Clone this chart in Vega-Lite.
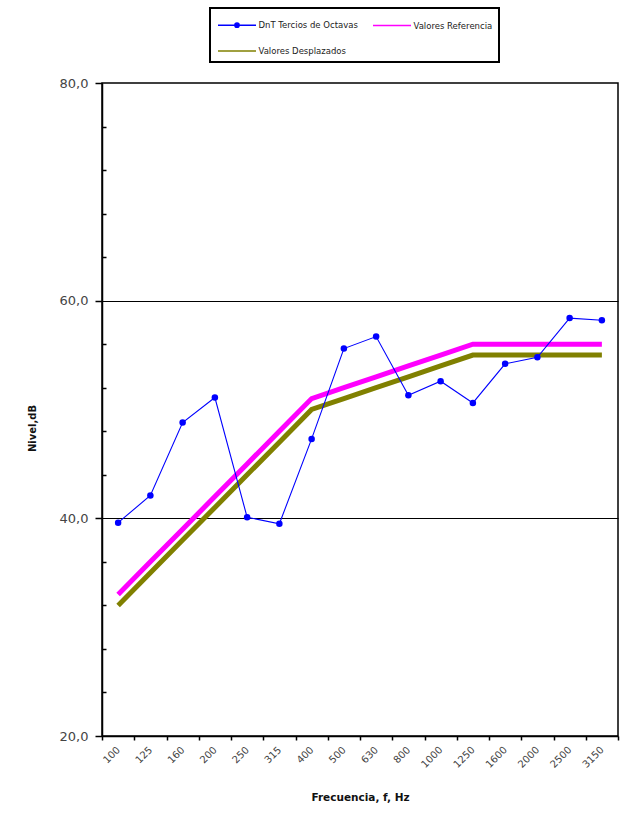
{
  "$schema": "https://vega.github.io/schema/vega-lite/v6.json",
  "width": 516,
  "height": 653,
  "autosize": {"type": "none"},
  "padding": {"left": 102, "top": 83, "right": 22, "bottom": 91},
  "background": "white",
  "config": {
    "font": "DejaVu Sans",
    "view": {"stroke": "black", "strokeWidth": 1.5}
  },
  "data": {
    "values": [
      {"freq": "100", "series": "DnT Tercios de Octavas", "value": 39.6},
      {"freq": "125", "series": "DnT Tercios de Octavas", "value": 42.1},
      {"freq": "160", "series": "DnT Tercios de Octavas", "value": 48.8},
      {"freq": "200", "series": "DnT Tercios de Octavas", "value": 51.1},
      {"freq": "250", "series": "DnT Tercios de Octavas", "value": 40.1},
      {"freq": "315", "series": "DnT Tercios de Octavas", "value": 39.5},
      {"freq": "400", "series": "DnT Tercios de Octavas", "value": 47.3},
      {"freq": "500", "series": "DnT Tercios de Octavas", "value": 55.6},
      {"freq": "630", "series": "DnT Tercios de Octavas", "value": 56.7},
      {"freq": "800", "series": "DnT Tercios de Octavas", "value": 51.3},
      {"freq": "1000", "series": "DnT Tercios de Octavas", "value": 52.6},
      {"freq": "1250", "series": "DnT Tercios de Octavas", "value": 50.6},
      {"freq": "1600", "series": "DnT Tercios de Octavas", "value": 54.2},
      {"freq": "2000", "series": "DnT Tercios de Octavas", "value": 54.8},
      {"freq": "2500", "series": "DnT Tercios de Octavas", "value": 58.4},
      {"freq": "3150", "series": "DnT Tercios de Octavas", "value": 58.2},
      {"freq": "100", "series": "Valores Referencia", "value": 33},
      {"freq": "125", "series": "Valores Referencia", "value": 36},
      {"freq": "160", "series": "Valores Referencia", "value": 39},
      {"freq": "200", "series": "Valores Referencia", "value": 42},
      {"freq": "250", "series": "Valores Referencia", "value": 45},
      {"freq": "315", "series": "Valores Referencia", "value": 48},
      {"freq": "400", "series": "Valores Referencia", "value": 51},
      {"freq": "500", "series": "Valores Referencia", "value": 52},
      {"freq": "630", "series": "Valores Referencia", "value": 53},
      {"freq": "800", "series": "Valores Referencia", "value": 54},
      {"freq": "1000", "series": "Valores Referencia", "value": 55},
      {"freq": "1250", "series": "Valores Referencia", "value": 56},
      {"freq": "1600", "series": "Valores Referencia", "value": 56},
      {"freq": "2000", "series": "Valores Referencia", "value": 56},
      {"freq": "2500", "series": "Valores Referencia", "value": 56},
      {"freq": "3150", "series": "Valores Referencia", "value": 56},
      {"freq": "100", "series": "Valores Desplazados", "value": 32},
      {"freq": "125", "series": "Valores Desplazados", "value": 35},
      {"freq": "160", "series": "Valores Desplazados", "value": 38},
      {"freq": "200", "series": "Valores Desplazados", "value": 41},
      {"freq": "250", "series": "Valores Desplazados", "value": 44},
      {"freq": "315", "series": "Valores Desplazados", "value": 47},
      {"freq": "400", "series": "Valores Desplazados", "value": 50},
      {"freq": "500", "series": "Valores Desplazados", "value": 51},
      {"freq": "630", "series": "Valores Desplazados", "value": 52},
      {"freq": "800", "series": "Valores Desplazados", "value": 53},
      {"freq": "1000", "series": "Valores Desplazados", "value": 54},
      {"freq": "1250", "series": "Valores Desplazados", "value": 55},
      {"freq": "1600", "series": "Valores Desplazados", "value": 55},
      {"freq": "2000", "series": "Valores Desplazados", "value": 55},
      {"freq": "2500", "series": "Valores Desplazados", "value": 55},
      {"freq": "3150", "series": "Valores Desplazados", "value": 55}
    ]
  },
  "encoding": {
    "x": {
      "field": "freq",
      "type": "ordinal",
      "sort": null,
      "bandPosition": 0.5,
      "scale": {"type": "band", "paddingInner": 0, "paddingOuter": 0},
      "axis": {
        "title": "Frecuencia, f, Hz",
        "titleFontSize": 10.5,
        "titleFontWeight": "bold",
        "titleColor": "#111",
        "titlePadding": 23,
        "labelAngle": -45,
        "labelAlign": "right",
        "labelBaseline": "middle",
        "labelFontSize": 10,
        "labelColor": "#444",
        "labelPadding": 8,
        "tickBand": "extent",
        "tickSize": 4,
        "tickColor": "black",
        "tickWidth": 1.5,
        "domainColor": "black",
        "domainWidth": 1.5,
        "grid": false
      }
    },
    "y": {
      "field": "value",
      "type": "quantitative",
      "scale": {"domain": [20, 80], "nice": false, "zero": false},
      "axis": {
        "title": "Nivel,dB",
        "titleFontSize": 10,
        "titleFontWeight": "bold",
        "titleColor": "#111",
        "titleY": 345,
        "titleX": -65,
        "values": [20, 24, 28, 32, 36, 40, 44, 48, 52, 56, 60, 64, 68, 72, 76, 80],
        "labelExpr": "datum.value % 20 === 0 ? replace(format(datum.value, '.1f'), '.', ',') : ''",
        "labelFontSize": 13,
        "labelColor": "#444",
        "labelPadding": 7,
        "tickSize": {"condition": {"test": "datum.value % 20 === 0", "value": 7}, "value": -4},
        "tickColor": "black",
        "tickWidth": 1.5,
        "domainColor": "black",
        "domainWidth": 1.5,
        "grid": true,
        "gridColor": "black",
        "gridWidth": 1,
        "gridOpacity": {"condition": {"test": "datum.value === 40 || datum.value === 60", "value": 1}, "value": 0}
      }
    }
  },
  "layer": [
    {
      "transform": [{"filter": "datum.series !== 'DnT Tercios de Octavas'"}],
      "mark": {"type": "line", "strokeWidth": 5},
      "encoding": {
        "color": {
          "field": "series",
          "type": "nominal",
          "scale": {
            "domain": ["DnT Tercios de Octavas", "Valores Referencia", "Valores Desplazados"],
            "range": ["#0000FF", "#FF00FF", "#808000"]
          },
          "legend": {
            "title": null,
            "orient": "none",
            "legendX": 108,
            "legendY": -75,
            "direction": "horizontal",
            "columns": 2,
            "symbolType": "M-2,0L2,0",
            "symbolSize": 361,
            "symbolStrokeWidth": 1.5,
            "symbolFillColor": "#0000FF",
            "symbolOffset": 10,
            "labelOffset": 11,
            "labelFontSize": 8.5,
            "labelColor": "#222",
            "labelLimit": 200,
            "columnPadding": 11,
            "rowPadding": 10,
            "padding": 6.5,
            "strokeColor": "black",
            "fillColor": "white",
            "encode": {
              "legend": {"update": {"strokeWidth": {"value": 2}}},
              "symbols": {"update": {"shape": {"signal": "datum.value === 'DnT Tercios de Octavas' ? 'M-2,0L2,0M-0.22,0A0.22,0.22,0,1,1,0.22,0A0.22,0.22,0,1,1,-0.22,0Z' : 'M-2,0L2,0'"}}}
            }
          }
        },
        "detail": {"field": "series"}
      }
    },
    {
      "transform": [{"filter": "datum.series === 'DnT Tercios de Octavas'"}],
      "mark": {"type": "line", "strokeWidth": 1.1},
      "encoding": {
        "color": {"field": "series", "type": "nominal"}
      }
    },
    {
      "transform": [{"filter": "datum.series === 'DnT Tercios de Octavas'"}],
      "mark": {"type": "point", "filled": true, "size": 42, "opacity": 1, "color": "#0000FF"},
      "encoding": {}
    }
  ]
}
